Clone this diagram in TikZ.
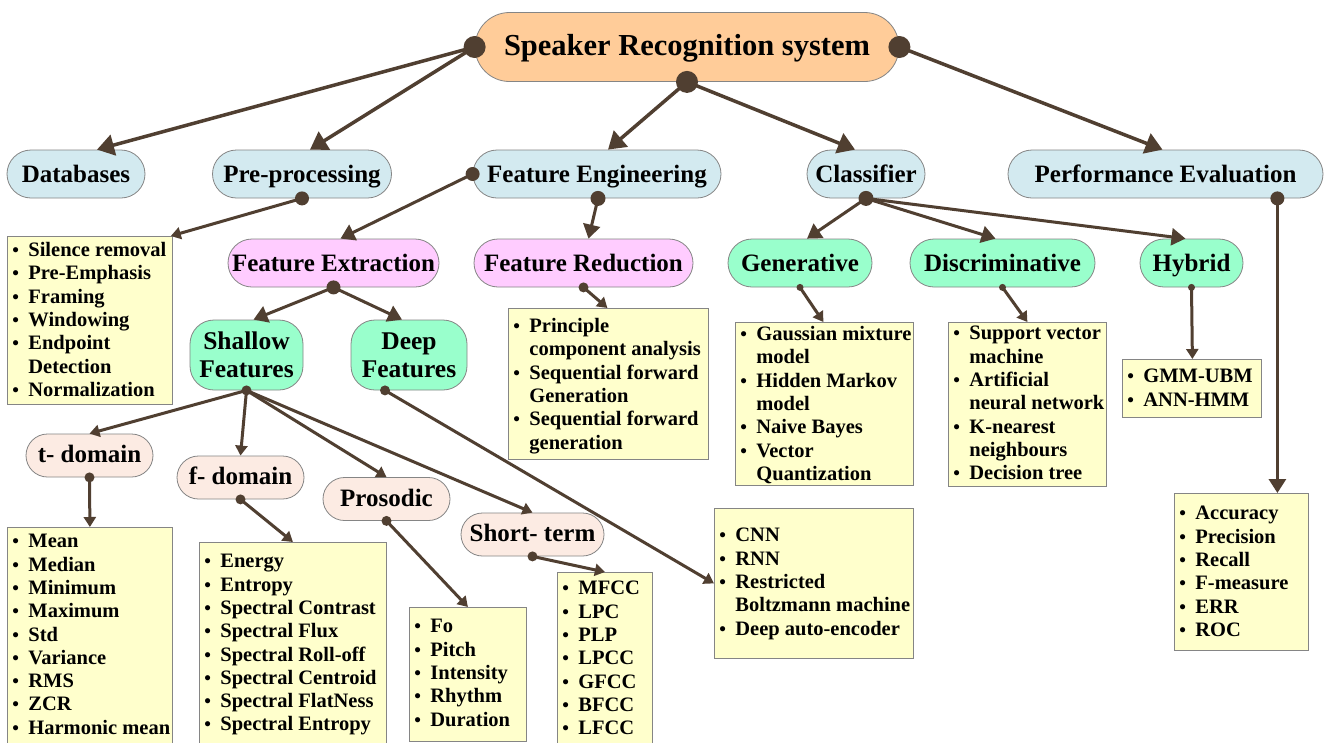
\documentclass[tikz,border=0pt]{standalone}
\usepackage{fontspec}
\setmainfont{Liberation Serif}
\usetikzlibrary{arrows.meta}

\definecolor{lnk}{HTML}{503F31}
\definecolor{bord}{HTML}{858585}
\definecolor{cRoot}{HTML}{FFCC99}
\definecolor{cBlue}{HTML}{D3EAF0}
\definecolor{cPink}{HTML}{FFCCFF}
\definecolor{cMint}{HTML}{99FFCC}
\definecolor{cSkin}{HTML}{FCEBE3}
\definecolor{cYel}{HTML}{FFFFCC}

% list helpers: bullet item and continuation line
\newcommand\bi[1]{\makebox[16pt][l]{\fontsize{19}{19}\selectfont\textbullet}#1\par}
\newcommand\bc[1]{\hspace*{16pt}#1\par}
% fixed-size list panel: width, height, top gap, items
\newcommand\ylist[4]{\begin{minipage}[c][#2][t]{#1}\vspace*{#3}\raggedright\leftskip=5pt\relax
  \fontsize{20.5}{23.3}\selectfont\bfseries #4\end{minipage}}

\begin{document}
\begin{tikzpicture}[x=1pt,y=-1pt,
  conn/.style={draw=lnk, line width=3pt},
  rootconn/.style={draw=lnk, line width=3.5pt},
  big/.style={-{Triangle[length=17pt,width=21pt]}},
  med/.style={-{Triangle[length=14pt,width=17pt]}},
  sml/.style={-{Triangle[length=10pt,width=12pt]}},
  pill/.style={draw=bord, line width=0.8pt, rounded corners=#1, inner sep=0pt, align=center},
  lvl/.style={pill=24pt, minimum height=48pt, font=\fontsize{25}{30}\selectfont\bfseries, text height=20pt, text depth=4pt},
  two/.style={pill=24pt, minimum height=70pt, font=\fontsize{25.5}{28}\selectfont\bfseries, fill=cMint},
  dom/.style={pill=21.5pt, minimum height=43pt, fill=cSkin, font=\fontsize{25}{28}\selectfont\bfseries, text height=19pt, text depth=5pt},
  ybox/.style={draw=bord, fill=cYel, line width=0.8pt, inner sep=0pt, anchor=north west},
]
\path[use as bounding box] (0,0) rectangle (1331,742);
\clip (0,0) rectangle (1331,742);
\fill[white] (0,0) rectangle (1331,742);

% root
\node[pill=34.5pt, fill=cRoot, minimum width=424pt, minimum height=69pt,
      font=\fontsize{30.5}{34}\selectfont\bfseries, text height=22pt, text depth=6pt] (root) at (687,47) {Speaker Recognition system};

% main branches
\node[lvl, fill=cBlue, minimum width=138pt] (db)   at (76,174)    {Databases};
\node[lvl, fill=cBlue, minimum width=179pt] (pre)  at (302,174)   {Pre-processing};
\node[lvl, fill=cBlue, minimum width=248pt] (feng) at (597,174)   {Feature Engineering};
\node[lvl, fill=cBlue, minimum width=118pt] (cls)  at (866,174)   {Classifier};
\node[lvl, fill=cBlue, minimum width=315pt] (perf) at (1165.5,174){Performance Evaluation};

% second level
\node[lvl, fill=cPink, minimum width=211pt] (fext) at (333.5,263) {Feature Extraction};
\node[lvl, fill=cPink, minimum width=219pt] (fred) at (583.5,263) {Feature Reduction};
\node[lvl, fill=cMint, minimum width=144pt] (gen)  at (800,263)   {Generative};
\node[lvl, fill=cMint, minimum width=185pt] (disc) at (1002.5,263){Discriminative};
\node[lvl, fill=cMint, minimum width=103pt] (hyb)  at (1191.5,263){Hybrid};

\node[two, minimum width=113pt] (shal) at (246.5,355) {Shallow\\Features};
\node[two, minimum width=116pt] (deep) at (409,355)   {Deep\\Features};

% feature domains
\node[dom, minimum width=127pt] (tdom)  at (89.5,455.5)  {t- domain};
\node[dom, minimum width=127pt] (fdom)  at (240.5,477.5) {f- domain};
\node[dom, minimum width=127pt] (pros)  at (386.5,499)   {Prosodic};
\node[dom, minimum width=143pt] (short) at (532.5,534.5) {Short- term};

% list panels
\node[ybox] (prebox) at (7,236) {\ylist{165pt}{168pt}{6pt}{\bi{Silence removal}\bi{Pre-Emphasis}\bi{Framing}\bi{Windowing}\bi{Endpoint}\bc{Detection}\bi{Normalization}}};
\node[ybox] (fredbox) at (508,308) {\ylist{200pt}{151pt}{10pt}{\bi{Principle}\bc{component analysis}\bi{Sequential forward}\bc{Generation}\bi{Sequential forward}\bc{generation}}};
\node[ybox] (genbox) at (735,322) {\ylist{178pt}{163pt}{4pt}{\bi{Gaussian mixture}\bc{model}\bi{Hidden Markov}\bc{model}\bi{Naive Bayes}\bi{Vector}\bc{Quantization}}};
\node[ybox] (discbox) at (948,322) {\ylist{158pt}{164pt}{4pt}{\bi{Support vector}\bc{machine}\bi{Artificial}\bc{neural network}\bi{K-nearest}\bc{neighbours}\bi{Decision tree}}};
\node[ybox] (hybbox) at (1122,359) {\ylist{139pt}{58pt}{10pt}{\bi{GMM-UBM}\bi{ANN-HMM}}};
\node[ybox] (perfbox) at (1174,493) {\ylist{134pt}{157pt}{13pt}{\bi{Accuracy}\bi{Precision}\bi{Recall}\bi{F-measure}\bi{ERR}\bi{ROC}}};
\node[ybox] (tbox) at (7,527) {\ylist{165pt}{230pt}{7pt}{\bi{Mean}\bi{Median}\bi{Minimum}\bi{Maximum}\bi{Std}\bi{Variance}\bi{RMS}\bi{ZCR}\bi{Harmonic mean}}};
\node[ybox] (fbox) at (199,542) {\ylist{187pt}{215pt}{12pt}{\bi{Energy}\bi{Entropy}\bi{Spectral Contrast}\bi{Spectral Flux}\bi{Spectral Roll-off}\bi{Spectral Centroid}\bi{Spectral FlatNess}\bi{Spectral Entropy}}};
\node[ybox] (prosbox) at (409,607) {\ylist{117pt}{134pt}{12pt}{\bi{Fo}\bi{Pitch}\bi{Intensity}\bi{Rhythm}\bi{Duration}}};
\node[ybox] (shortbox) at (557,572) {\ylist{95pt}{185pt}{9pt}{\bi{MFCC}\bi{LPC}\bi{PLP}\bi{LPCC}\bi{GFCC}\bi{BFCC}\bi{LFCC}}};
\node[ybox] (cnnbox) at (714,508) {\ylist{199pt}{150pt}{20pt}{\bi{CNN}\bi{RNN}\bi{Restricted}\bc{Boltzmann machine}\bi{Deep auto-encoder}}};

% connectors from the root
\draw[rootconn,big] (root.west)  -- ([xshift=21pt]db.north);
\draw[rootconn,big] (root.west)  -- ([xshift=8pt]pre.north);
\draw[rootconn,big] (root.south) -- ([xshift=11pt]feng.north);
\draw[rootconn,big] (root.south) -- ([xshift=-11pt]cls.north);
\draw[rootconn,big] (root.east)  -- ([xshift=-3pt]perf.north);

% connectors below the main branches
\draw[conn,sml] (pre.south)  -- ([xshift=-2pt]prebox.north east);
\draw[conn,med] (feng.west)  -- ([xshift=7pt]fext.north);
\draw[conn,med] ([xshift=1pt]feng.south) -- ([xshift=5pt]fred.north);
\draw[conn,med] (cls.south)  -- ([xshift=7pt]gen.north);
\draw[conn,med] (cls.south)  -- ([xshift=-7pt]disc.north);
\draw[conn,med] (cls.south)  -- ([xshift=-6pt]hyb.north);
\draw[conn,med] ([xshift=-46pt]perf.south east) -- ([xshift=36pt]perfbox.north);

\draw[conn,med] (fext.south) -- ([xshift=7pt]shal.north);
\draw[conn,med] (fext.south) -- ([xshift=-7pt]deep.north);
\draw[conn,sml] (fred.south) -- ([xshift=-1pt]fredbox.north);
\draw[conn,sml] (gen.south)  -- ([xshift=-1pt]genbox.north);
\draw[conn,sml] (disc.south) -- ([xshift=0pt]discbox.north);
\draw[conn,sml] (hyb.south)  -- ([xshift=0.5pt]hybbox.north);

\draw[conn,sml] (shal.south) -- (tdom.north);
\draw[conn,sml] (shal.south) -- (fdom.north);
\draw[conn,sml] (shal.south) -- (pros.north);
\draw[conn,sml] (shal.south) -- (short.north);
\draw[conn,sml] ([xshift=-24pt]deep.south) -- (cnnbox.west);

\draw[conn,sml] (tdom.south)  -- (tbox.north);
\draw[conn,sml] (fdom.south)  -- (fbox.north);
\draw[conn,sml] (pros.south)  -- (prosbox.north);
\draw[conn,sml] (short.south) -- (shortbox.north);

% junction dots
\fill[lnk] (root.west) circle[radius=11pt];
\fill[lnk] (root.east) circle[radius=11pt];
\fill[lnk] (root.south) circle[radius=11pt];
\fill[lnk] (pre.south) circle[radius=7pt];
\fill[lnk] (feng.west) circle[radius=7pt];
\fill[lnk] ([xshift=1pt]feng.south) circle[radius=7.5pt];
\fill[lnk] (cls.south) circle[radius=7.5pt];
\fill[lnk] ([xshift=-46pt]perf.south east) circle[radius=7pt];
\fill[lnk] (fext.south) circle[radius=7pt];
\fill[lnk] (fred.south) circle[radius=5pt];
\fill[lnk] (gen.south) circle[radius=3.5pt];
\fill[lnk] (disc.south) circle[radius=3.5pt];
\fill[lnk] (hyb.south) circle[radius=3.5pt];
\fill[lnk] (shal.south) circle[radius=5pt];
\fill[lnk] ([xshift=-24pt]deep.south) circle[radius=5pt];
\fill[lnk] (tdom.south) circle[radius=5pt];
\fill[lnk] (fdom.south) circle[radius=5pt];
\fill[lnk] (pros.south) circle[radius=5pt];
\fill[lnk] (short.south) circle[radius=5pt];
\end{tikzpicture}
\end{document}
